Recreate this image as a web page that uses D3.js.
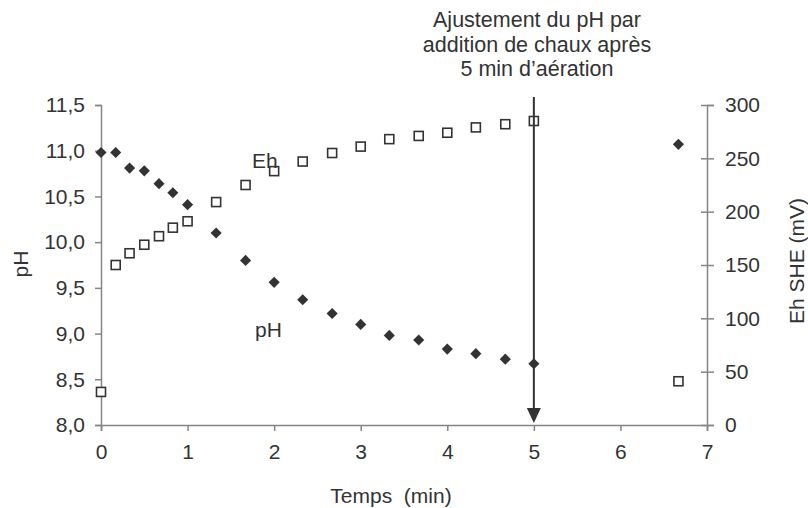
<!DOCTYPE html>
<html>
<head>
<meta charset="utf-8">
<script src="https://cdn.jsdelivr.net/npm/d3@7"></script>
<style>
  body { margin: 0; background: #fff; }
  text { font-family: "Liberation Sans", Arial, sans-serif; fill: #333; }
</style>
</head>
<body>
<div id="chart"></div>
<script>
// time (min)
const temps = [0, 0.17, 0.33, 0.5, 0.67, 0.83, 1, 1.33, 1.67, 2, 2.33, 2.67, 3, 3.33, 3.67, 4, 4.33, 4.67, 5, 6.67];
const phValues = [10.98, 10.98, 10.81, 10.78, 10.64, 10.54, 10.41, 10.10, 9.80, 9.56, 9.37, 9.22, 9.10, 8.98, 8.93, 8.83, 8.78, 8.72, 8.67, 11.07];
const ehValues = [31, 150, 161, 169, 177, 185, 191, 209, 225, 238, 247, 255, 261, 268, 271, 274, 279, 282, 285, 41];

const xTicks = [0, 1, 2, 3, 4, 5, 6, 7];
const phTicks = [8, 8.5, 9, 9.5, 10, 10.5, 11, 11.5];
const ehTicks = [0, 50, 100, 150, 200, 250, 300];
const titleLines = ["Ajustement du pH par", "addition de chaux après", "5 min d\u2019aération"];

const W = 808, H = 508;
const margin = { top: 105, right: 101, bottom: 83, left: 101 };
const width = W - margin.left - margin.right;
const height = H - margin.top - margin.bottom;

const svg = d3.select("#chart").append("svg")
    .attr("width", W)
    .attr("height", H);

const g = svg.append("g")
    .attr("transform", "translate(" + margin.left + "," + margin.top + ")");

const x = d3.scaleLinear().domain([0, 7]).range([0, width]);
const yPh = d3.scaleLinear().domain([8, 11.5]).range([height, 0]);
const yEh = d3.scaleLinear().domain([0, 300]).range([height, 0]);

const axisColor = "#858585";
const fs = 21;
const fmt = d3.format(".1f");

// left axis
const left = g.append("g")
    .call(d3.axisLeft(yPh).tickValues(phTicks).tickSize(6).tickPadding(10)
        .tickFormat(d => fmt(d).replace(".", ",")));

// bottom axis
const bottom = g.append("g")
    .attr("transform", "translate(0," + height + ")")
    .call(d3.axisBottom(x).tickValues(xTicks).tickSize(6).tickPadding(13)
        .tickFormat(d3.format("d")));

// right axis, ticks crossing the line
const right = g.append("g")
    .attr("transform", "translate(" + width + ",0)")
    .call(d3.axisRight(yEh).tickValues(ehTicks).tickSize(7).tickPadding(11));
right.selectAll(".tick line").attr("x1", -6);

[left, bottom, right].forEach(a => {
    a.select(".domain").attr("stroke", axisColor).attr("stroke-width", 1.5);
    a.selectAll(".tick line").attr("stroke", axisColor).attr("stroke-width", 1.5);
    a.selectAll(".tick text").attr("font-size", fs).attr("fill", "#333")
        .attr("font-family", "Liberation Sans, Arial, sans-serif");
});

// axis titles
svg.append("text")
    .attr("x", 391).attr("y", 503)
    .attr("text-anchor", "middle")
    .attr("font-size", fs)
    .attr("xml:space", "preserve")
    .text("Temps  (min)");

svg.append("text")
    .attr("transform", "translate(28,264) rotate(-90)")
    .attr("text-anchor", "middle")
    .attr("font-size", fs)
    .text("pH");

svg.append("text")
    .attr("transform", "translate(804,261) rotate(-90)")
    .attr("text-anchor", "middle")
    .attr("font-size", fs)
    .text("Eh SHE (mV)");

const points = temps.map((t, i) => ({ t: t, ph: phValues[i], eh: ehValues[i] }));

// Eh squares
g.selectAll(".eh")
    .data(points)
    .enter().append("rect")
    .attr("class", "eh")
    .attr("x", d => x(d.t) - 4.5)
    .attr("y", d => yEh(d.eh) - 4.5)
    .attr("width", 9)
    .attr("height", 9)
    .attr("fill", "#fff")
    .attr("stroke", "#333")
    .attr("stroke-width", 1.6);

// pH diamonds
g.selectAll(".ph")
    .data(points)
    .enter().append("path")
    .attr("class", "ph")
    .attr("d", d3.symbol().type(d3.symbolSquare).size(62))
    .attr("transform", d => "translate(" + x(d.t) + "," + yPh(d.ph) + ") rotate(45)")
    .attr("fill", "#333");

// series labels
svg.append("text").attr("x", 252).attr("y", 168).attr("font-size", fs).text("Eh");
svg.append("text").attr("x", 255).attr("y", 337).attr("font-size", fs).text("pH");

// arrow at 5 min
const ax = margin.left + x(5);
svg.append("line")
    .attr("x1", ax).attr("x2", ax)
    .attr("y1", 97).attr("y2", 410)
    .attr("stroke", "#333").attr("stroke-width", 2);
svg.append("path")
    .attr("d", "M" + (ax - 7) + ",408 L" + (ax + 7) + ",408 L" + ax + ",423 Z")
    .attr("fill", "#333");

// annotation text
svg.selectAll(".title")
    .data(titleLines)
    .enter().append("text")
    .attr("class", "title")
    .attr("x", 537)
    .attr("y", (d, i) => 27 + i * 24.5)
    .attr("text-anchor", "middle")
    .attr("font-size", 21.5)
    .text(d => d);
</script>
</body>
</html>
